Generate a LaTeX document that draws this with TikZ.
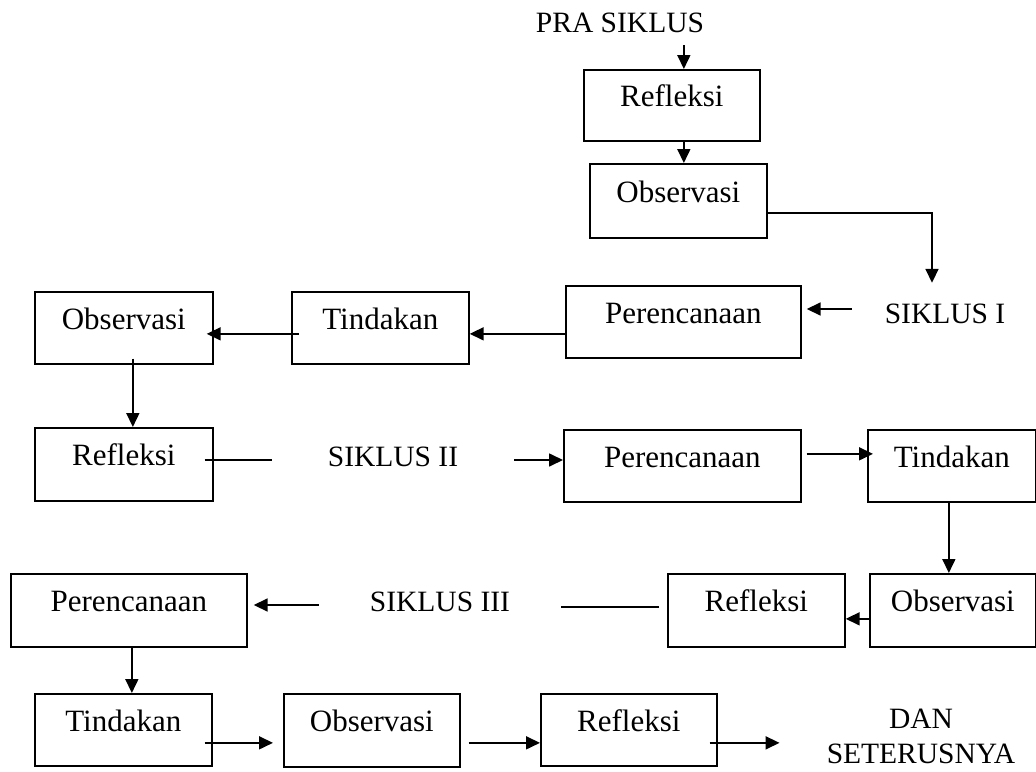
\documentclass[tikz,border=0pt]{standalone}
\usepackage{fontspec}
\setmainfont{Liberation Serif}
\usetikzlibrary{arrows.meta,calc}
\begin{document}
\begin{tikzpicture}[x=1pt,y=-1pt,
  box/.style={draw, line width=1.7pt, anchor=north west, inner xsep=0pt, inner ysep=0pt,
    text height=37pt, text depth=34pt, font=\fontsize{31}{36}\selectfont},
  lab/.style={inner ysep=0pt, text height=20pt, text depth=8pt, anchor=base,
    font=\fontsize{29.5}{36}\selectfont},
  arr/.style={line width=1.7pt, -{Triangle[length=14pt,width=13pt]}},
  ln/.style={line width=1.7pt}]
\useasboundingbox (0,0) rectangle (1036,771);
% boxes
\node[box, minimum width=176pt] (refA) at (583,69) {Refleksi};
\node[box, minimum width=177pt, minimum height=74pt] (obsA) at (589,163) {Observasi};
\node[box, minimum width=235pt, minimum height=72pt] (perB) at (565,285) {Perencanaan};
\node[box, minimum width=177pt, minimum height=72pt] (tinB) at (291,291) {Tindakan};
\node[box, minimum width=178pt, minimum height=72pt] (obsB) at (34,291) {Observasi};
\node[box, minimum width=178pt, minimum height=73pt] (refB) at (34,427) {Refleksi};
\node[box, minimum width=237pt, minimum height=72pt] (perC) at (563,429) {Perencanaan};
\node[box, minimum width=168pt, minimum height=72pt] (tinC) at (867,429) {Tindakan};
\node[box, minimum width=166pt, minimum height=73pt] (obsC) at (869,573) {Observasi};
\node[box, minimum width=177pt, minimum height=73pt] (refC) at (667,573) {Refleksi};
\node[box, minimum width=236pt, minimum height=73pt] (perD) at (10,573) {Perencanaan};
\node[box, minimum width=177pt, minimum height=72pt] (tinD) at (34,693) {Tindakan};
\node[box, minimum width=176pt, minimum height=73pt] (obsD) at (283,693) {Observasi};
\node[box, minimum width=176pt, minimum height=72pt] (refD) at (540,693) {Refleksi};
% labels
\node[inner sep=0pt, anchor=base, font=\fontsize{29.5}{36}\selectfont] (pra) at (620,32) {PRA SIKLUS};
\node[lab, inner xsep=33pt] (s1) at (945,323) {SIKLUS I};
\node[lab, inner xsep=56pt] (s2) at (393,466) {SIKLUS II};
\node[lab, inner xsep=51pt] (s3) at (440,611) {SIKLUS III};
\node[inner sep=0pt, align=center, font=\fontsize{29.5}{35}\selectfont] (dan) at (921,736) {DAN\\SETERUSNYA};
% connectors
\draw[arr] ($(refA.north)+(12pt,24pt)$) -- ($(refA.north)+(12pt,0pt)$);
\draw[arr] ($(refA.south)+(12pt,0pt)$) -- ($(refA.south |- obsA.north)+(12pt,0pt)$);
\draw[arr] ($(obsA.east)+(0pt,-12pt)$) -| ($(s1.north)+(-13pt,20pt)$);
\draw[arr] ($(s1.west)+(0pt,8pt)$) -- ($(s1.west -| perB.east)+(5pt,8pt)$);
\draw[arr] ($(perB.west)+(0pt,-12pt)$) -- ($(perB.west -| tinB.east)+(0pt,-12pt)$);
\draw[arr] ($(tinB.west)+(8pt,-6pt)$) -- ($(tinB.west -| obsB.east)+(-7pt,-6pt)$);
\draw[arr] ($(obsB.south)+(9pt,6pt)$) -- ($(obsB.south |- refB.north)+(9pt,0pt)$);
\draw[ln] ($(refB.east)+(-9pt,4.5pt)$) -- ($(refB.east -| s2.west)+(0pt,4.5pt)$);
\draw[arr] (s2.east) -- (s2.east -| perC.west);
\draw[arr] ($(perC.east)+(5pt,12pt)$) -- ($(perC.east -| tinC.west)+(6pt,12pt)$);
\draw[arr] ($(tinC.south)+(-3pt,0pt)$) -- ($(tinC.south |- obsC.north)+(-3pt,0pt)$);
\draw[arr] ($(obsC.west)+(0pt,-8.5pt)$) -- ($(obsC.west -| refC.east)+(0pt,-8.5pt)$);
\draw[ln] ($(refC.west)+(-8pt,3.5pt)$) -- ($(refC.west -| s3.east)+(0pt,3.5pt)$);
\draw[arr] (s3.west) -- ($(s3.west -| perD.east)+(6pt,0pt)$);
\draw[arr] ($(perD.south)+(3pt,0pt)$) -- ($(perD.south |- tinD.north)+(3pt,0pt)$);
\draw[arr] ($(tinD.east)+(-8pt,-13pt)$) -- ($(tinD.east -| obsD.west)+(-10pt,-13pt)$);
\draw[arr] ($(obsD.east)+(8pt,-12.5pt)$) -- ($(obsD.east -| refD.west)+(0pt,-12.5pt)$);
\draw[arr] ($(refD.east)+(-8pt,-13pt)$) -- ($(refD.east -| dan.west)+(-47pt,-13pt)$);
\end{tikzpicture}
\end{document}
